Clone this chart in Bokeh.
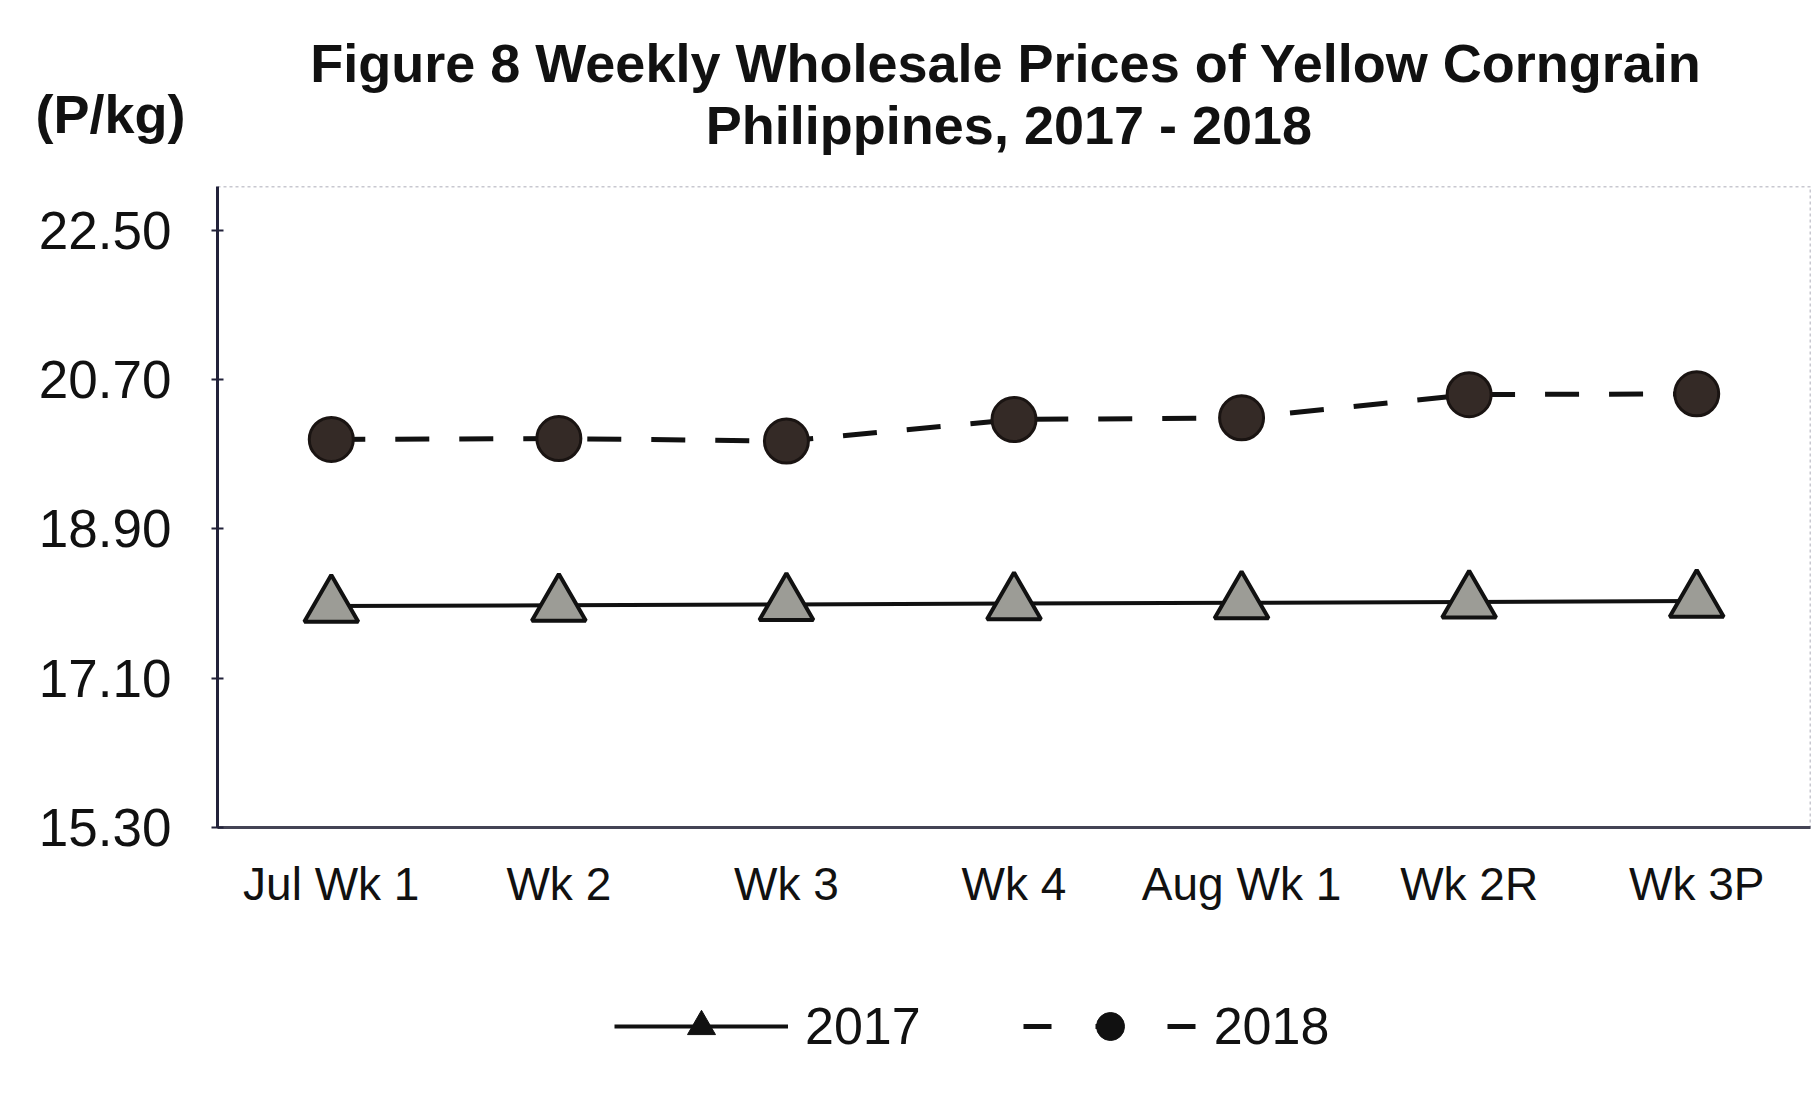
from bokeh.plotting import figure
from bokeh.layouts import column
from bokeh.models import (Range1d, FixedTicker, PrintfTickFormatter, Legend, LegendItem,
                          ColumnDataSource)
from bokeh.core.properties import value
from bokeh.embed import file_html
from bokeh.resources import INLINE

weeks = ["Jul Wk 1", "Wk 2", "Wk 3", "Wk 4", "Aug Wk 1", "Wk 2R", "Wk 3P"]
prices_2017 = [17.97, 17.98, 17.99, 18.00, 18.01, 18.02, 18.03]
prices_2018 = [19.98, 19.99, 19.96, 20.22, 20.24, 20.52, 20.53]
y_ticks = [15.30, 17.10, 18.90, 20.70, 22.50]
series_names = ["2017", "2018"]

title_line1 = "Figure 8  Weekly Wholesale Prices of Yellow Corngrain"
title_line2 = "Philippines,  2017 - 2018"
unit_label = "(P/kg)"

FONT = "Liberation Sans"
W = 1811
TEXT_COLOR = "#111111"

# ---------------- title strip ----------------
t = figure(width=W, height=186, x_range=Range1d(0, W), y_range=Range1d(0, 186),
           x_axis_type=None, y_axis_type=None, output_backend="svg",
           toolbar_location=None, min_border=0, outline_line_color=None,
           frame_align=False)
t.text(x=[1013, 1016], y=[124, 62], text=[title_line1, title_line2],
       text_align="center", text_baseline="middle", text_font=value(FONT),
       text_font_style="bold", text_font_size="54px", text_color=TEXT_COLOR)
t.text(x=[35], y=[73], text=[unit_label], text_align="left", text_baseline="middle",
       text_font=value(FONT), text_font_style="bold", text_font_size="54px",
       text_color=TEXT_COLOR)

# ---------------- main chart ----------------
p = figure(width=W, height=731, x_range=weeks, y_range=Range1d(15.30, 23.03),
           output_backend="svg", toolbar_location=None, frame_align=False,
           min_border_left=217, min_border_right=1, min_border_top=0, min_border_bottom=90)
p.x_range.range_padding = 0

p.xgrid.grid_line_color = None
p.ygrid.grid_line_color = None
p.background_fill_color = "white"
p.border_fill_color = "white"
p.outline_line_color = "#c8c8d0"
p.outline_line_dash = "3 3"
p.outline_line_width = 2

p.yaxis.ticker = FixedTicker(ticks=y_ticks)
p.yaxis.formatter = PrintfTickFormatter(format="%.2f")
p.yaxis.major_label_text_font = FONT
p.yaxis.major_label_text_font_size = "53px"
p.yaxis.major_label_text_color = TEXT_COLOR
p.yaxis.axis_line_color = "#22223a"
p.yaxis.axis_line_width = 3
p.yaxis.major_tick_line_color = "#22223a"
p.yaxis.major_tick_line_width = 2
p.yaxis.major_tick_in = 6
p.yaxis.major_tick_out = 6
p.yaxis.minor_tick_line_color = None
p.yaxis.major_label_standoff = 40

p.xaxis.major_label_text_font = FONT
p.xaxis.major_label_text_font_size = "46px"
p.xaxis.major_label_text_color = TEXT_COLOR
p.xaxis.axis_line_color = "#444455"
p.xaxis.axis_line_width = 3
p.xaxis.major_tick_line_color = None
p.xaxis.minor_tick_line_color = None
p.xaxis.major_label_standoff = 24

src = ColumnDataSource(dict(week=weeks, y17=prices_2017, y18=prices_2018))

p.line("week", "y17", source=src, line_color="#111111", line_width=4)
p.scatter("week", "y17", source=src, marker="triangle", size=54,
          fill_color="#9c9c96", line_color="#111111", line_width=4)
p.line("week", "y18", source=src, line_color="#111111", line_width=5, line_dash="34 30")
p.scatter("week", "y18", source=src, marker="circle", size=44,
          fill_color="#342a26", line_color="#1a1412", line_width=3)

# ---------------- legend strip ----------------
lg = figure(width=W, height=170, x_range=Range1d(0, 1), y_range=Range1d(0, 1),
            x_axis_type=None, y_axis_type=None, output_backend="svg",
            toolbar_location=None, min_border=0, outline_line_color=None,
            frame_align=False)
nodata = ColumnDataSource(dict(x=[float("nan")], y=[float("nan")]))
r1l = lg.line("x", "y", source=nodata, line_color="#111111", line_width=4)
r1m = lg.scatter("x", "y", source=nodata, marker="triangle", size=28,
                 fill_color="#111111", line_color="#111111")
r2l = lg.line("x", "y", source=nodata, line_color="#111111", line_width=5, line_dash="28 44")
r2m = lg.scatter("x", "y", source=nodata, marker="circle", size=28,
                 fill_color="#111111", line_color="#111111")
legend = Legend(items=[LegendItem(label=series_names[0], renderers=[r1l, r1m]),
                       LegendItem(label=series_names[1], renderers=[r2l, r2m])],
                orientation="horizontal", location=(614, 26), margin=0, padding=10,
                glyph_width=174, glyph_height=70, label_standoff=17, spacing=102,
                label_text_font=FONT, label_text_font_size="52px",
                label_text_color=TEXT_COLOR, label_text_baseline="middle",
                border_line_color=None, background_fill_alpha=0)
lg.add_layout(legend, "center")

layout = column(t, p, lg, spacing=0)
open("out.html", "w").write(file_html(layout, INLINE))
